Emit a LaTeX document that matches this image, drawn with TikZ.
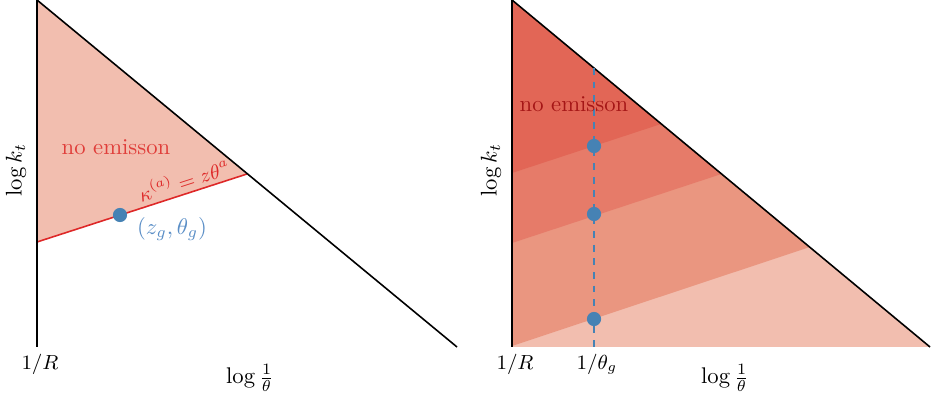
\documentclass[tikz,border=0pt]{standalone}
\usepackage{amsmath,amssymb}
\usepackage{xcolor}
\usetikzlibrary{calc,positioning}
\definecolor{bandone}{RGB}{226,102,86}
\definecolor{bandtwo}{RGB}{230,123,105}
\definecolor{bandthree}{RGB}{234,150,128}
\definecolor{bandfour}{RGB}{242,190,175}
\definecolor{cutred}{RGB}{222,40,40}
\definecolor{textred}{RGB}{224,62,58}
\definecolor{darkred}{RGB}{165,22,22}
\definecolor{dotblue}{RGB}{70,130,180}
\definecolor{labelblue}{RGB}{90,142,198}

\begin{document}
\begin{tikzpicture}[
        x=0.0155cm, y=-0.0155cm,
        edge/.style={draw=black, line width=0.7pt},
        dot/.style={circle, fill=dotblue, inner sep=0pt, minimum size=0.22cm},
        lbl/.style={inner sep=1pt}
    ]
    \useasboundingbox (0,0) rectangle (931,397);

    % left panel
    \coordinate (ltop) at (37,0);
    \coordinate (lbot) at (37,347);
    \coordinate (lend) at (457,347);
    \coordinate (lcut) at (37,242);
    \coordinate (lmeet) at (247,174);

    \fill[bandfour] (ltop) -- (lmeet) -- (lcut) -- cycle;
    \draw[cutred, line width=0.7pt] (lcut) -- (lmeet)
        node[pos=0.72, sloped, above=-1.5pt, font=\small, text=cutred] (kappa) {$\kappa^{(a)} = z\theta^{a}$};
    \draw[edge] (lbot) -- (ltop) -- (lend);

    \node[dot] (gluon) at (120,215) {};
    \node[lbl, text=labelblue] (zth) at (172,229) {$(z_g,\theta_g)$};
    \node[lbl, text=textred] (noemL) at (116,147) {no emisson};
    \node[lbl, rotate=90] (ktL) at (16,170) {$\log k_t$};
    \node[lbl, font=\small] (rL) at (40,364) {$1/R$};
    \node[lbl] (thL) at (250,378) {$\log\frac{1}{\theta}$};

    % right panel
    \coordinate (rtop) at (512,0);
    \coordinate (rbot) at (512,347);
    \coordinate (rend) at (930,347);
    \coordinate (rc1) at (512,173);
    \coordinate (rc2) at (512,243);
    \coordinate (rc3) at (512,346);
    \coordinate (rm1) at (661,124);
    \coordinate (rm2) at (721.5,174);
    \coordinate (rm3) at (810,247);

    \fill[bandfour] (rtop) -- (rend) -- (rbot) -- cycle;
    \fill[bandthree] (rtop) -- (rm3) -- (rc3) -- cycle;
    \fill[bandtwo] (rtop) -- (rm2) -- (rc2) -- cycle;
    \fill[bandone] (rtop) -- (rm1) -- (rc1) -- cycle;
    \draw[edge] (rbot) -- (rtop) -- (rend);

    \coordinate (gtop) at (594,68);
    \coordinate (gbot) at (594,347);
    \draw[dotblue, dashed, line width=0.7pt] (gtop) -- (gbot);
    \node[dot] (p1) at (594,146) {};
    \node[dot] (p2) at (594,214) {};
    \node[dot] (p3) at (594,319) {};

    \node[lbl, text=darkred] (noemR) at (574,104) {no emisson};
    \node[lbl, rotate=90] (ktR) at (491,170) {$\log k_t$};
    \node[lbl, font=\small] (rR) at (515,364) {$1/R$};
    \node[lbl, font=\small] (thg) at (597,364) {$1/\theta_g$};
    \node[lbl] (thR) at (725,378) {$\log\frac{1}{\theta}$};
\end{tikzpicture}
\end{document}
